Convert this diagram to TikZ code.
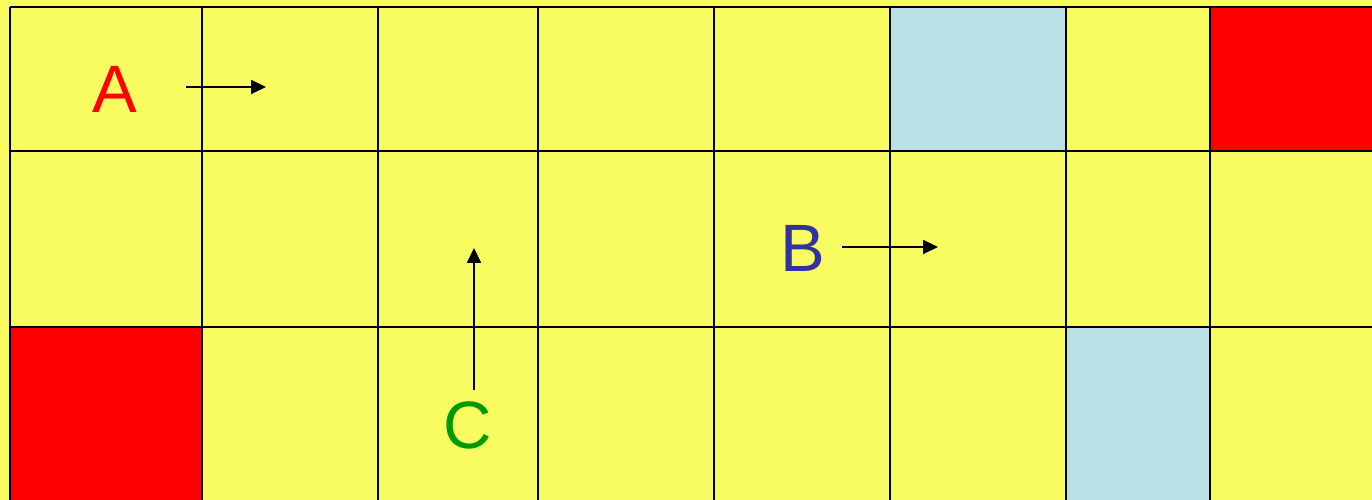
\documentclass[tikz,border=0pt]{standalone}
\usepackage{fontspec}
\setmainfont{Liberation Sans}
\usetikzlibrary{arrows.meta}
\definecolor{bgyellow}{RGB}{248,252,96}
\definecolor{cellblue}{RGB}{186,224,230}
\definecolor{cellred}{RGB}{255,0,0}
\definecolor{lblue}{RGB}{51,51,160}
\definecolor{lgreen}{RGB}{0,153,0}
\tikzset{
  gridline/.style={line width=2pt, black},
  mover/.style={line width=2pt, black, -{Triangle[length=15pt,width=14pt]}},
  letter/.style={font=\fontsize{67}{67}\selectfont, inner sep=0pt, anchor=center}
}
\begin{document}
\begin{tikzpicture}[x=1pt,y=1pt]
\useasboundingbox (0,0) rectangle (1372,500);
\fill[bgyellow] (0,0) rectangle (1372,500);
% coloured cells (y = 500 - pixel row)
\fill[cellblue] (890,349) rectangle (1066,493);
\fill[cellred] (1210,349) rectangle (1380,493);
\fill[cellred] (10,-10) rectangle (202,173);
\fill[cellblue] (1066,-10) rectangle (1210,173);
% grid
\foreach \x in {10,202,378,538,714,890,1066,1210}
  \draw[gridline] (\x,-10) -- (\x,493);
\foreach \y in {493,349,173}
  \draw[gridline] (10,\y) -- (1380,\y);
% labels
\node[letter, text=cellred] (A) at (115,411) {A};
\node[letter, text=lblue] (B) at (803,252) {B};
\node[letter, text=lgreen] (C) at (468,75) {C};
% arrows
\coordinate (a0) at (186,413);
\coordinate (a1) at (266,413);
\coordinate (b0) at (842,253);
\coordinate (b1) at (938,253);
\coordinate (c0) at (474,110);
\coordinate (c1) at (474,252);
\draw[mover] (a0) -- (a1);
\draw[mover] (b0) -- (b1);
\draw[mover] (c0) -- (c1);
\end{tikzpicture}
\end{document}
